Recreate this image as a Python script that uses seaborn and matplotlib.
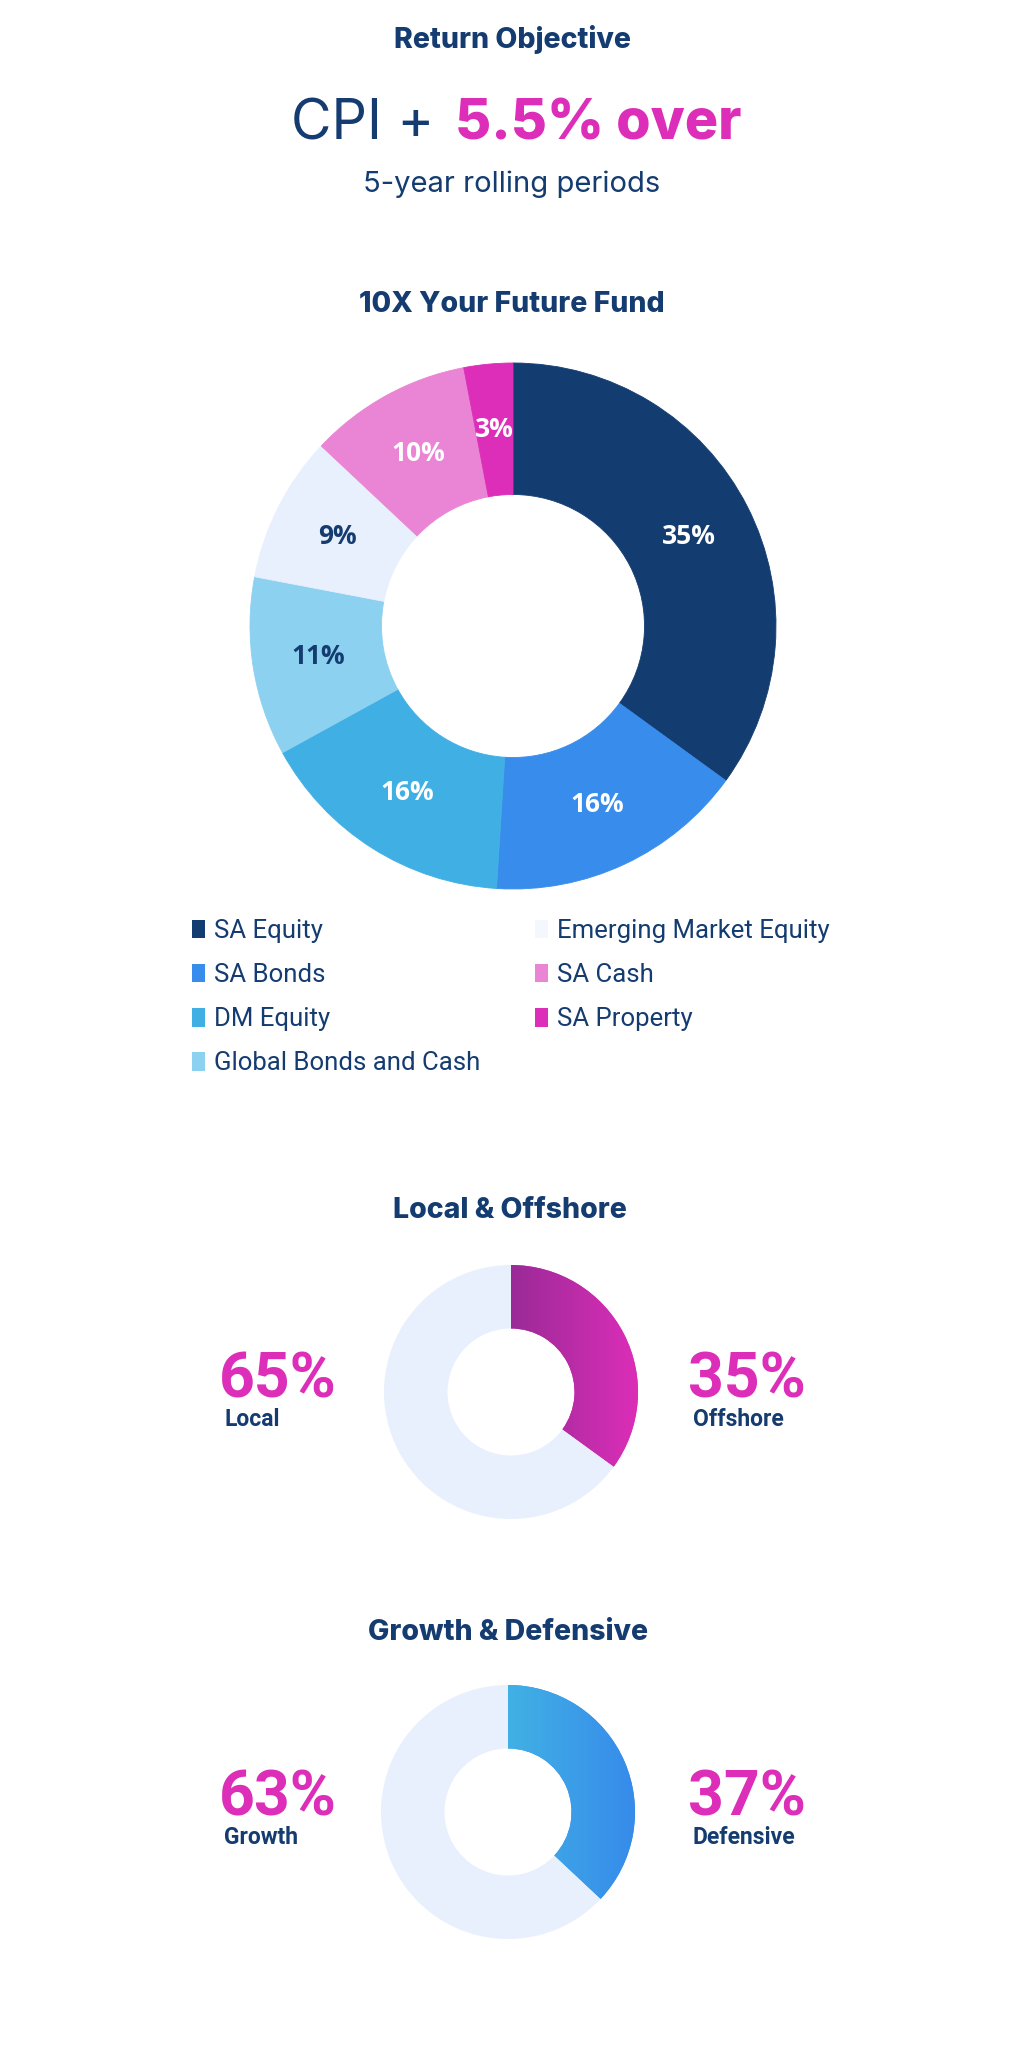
import numpy as np
import matplotlib
matplotlib.use("Agg")
import matplotlib.pyplot as plt
from matplotlib.patches import Patch
import seaborn as sns

sns.set_theme(style="white")
plt.rcParams["font.family"] = ["Roboto", "DejaVu Sans"]

NAVY = "#143C70"
MAGENTA = "#DC2EB8"
HEAD = ["Inter", "DejaVu Sans"]

# 10X Your Future Fund allocation
fund_labels = ["SA Equity", "SA Bonds", "DM Equity", "Global Bonds and Cash",
               "Emerging Market Equity", "SA Cash", "SA Property"]
fund_values = [35, 16, 16, 11, 9, 10, 3]
fund_colors = ["#133D71", "#388CEC", "#40AFE4", "#8DD1F1", "#E8EFFD", "#EA84D4", "#DC2EB8"]
fund_text_colors = ["white", "white", "white", NAVY, NAVY, "white", "white"]

# split donuts
local_labels = ["Offshore", "Local"]
local_values = [35, 65]
growth_labels = ["Defensive", "Growth"]
growth_values = [37, 63]

W, H = 1024, 2062
fig = plt.figure(figsize=(W / 100, H / 100), dpi=100)


def box(cx, cy, r):
    return [(cx - r) / W, 1 - (cy + r) / H, 2 * r / W, 2 * r / H]


# header
fig.text(0.5, 1 - 40 / H, "Return Objective", ha="center", va="center",
         fontsize=20.5, fontweight="heavy", color=NAVY, family=HEAD)
fig.text(0.424, 1 - 124 / H, "CPI +", ha="right", va="center",
         fontsize=40, color=NAVY, family=HEAD)
fig.text(0.444, 1 - 124 / H, "5.5% over", ha="left", va="center",
         fontsize=40, fontweight="heavy", color=MAGENTA, family=HEAD)
fig.text(0.5, 1 - 184 / H, "5-year rolling periods", ha="center", va="center",
         fontsize=21, color=NAVY, family=HEAD)

# main donut
fig.text(0.5, 1 - 305 / H, "10X Your Future Fund", ha="center", va="center",
         fontsize=20.5, fontweight="heavy", color=NAVY, family=HEAD)
ax = fig.add_axes(box(513, 626, 263))
wedges, _, pcts = ax.pie(fund_values, colors=fund_colors, startangle=90, counterclock=False,
                         radius=1, wedgeprops=dict(width=0.5, linewidth=0.6),
                         autopct=lambda p: f"{p:.0f}%", pctdistance=0.75,
                         textprops=dict(fontsize=19, fontweight="bold",
                                        family=["Open Sans", "DejaVu Sans"]))
for w in wedges:
    w.set_edgecolor(w.get_facecolor())
for t, c in zip(pcts, fund_text_colors):
    t.set_color(c)
ax.set_xlim(-1, 1)
ax.set_ylim(-1, 1)
ax.set_axis_off()

# legend in two columns
handles = [Patch(facecolor=c if c != "#E8EFFD" else "#F4F7FE", edgecolor="none")
           for c in fund_colors]
for idx, x in [(slice(0, 4), 192), (slice(4, 7), 535)]:
    leg = fig.legend(handles[idx], fund_labels[idx], loc="upper left",
                     bbox_to_anchor=(x / W, 1 - 919 / H), frameon=False,
                     fontsize=18.5, handlelength=0.5, handleheight=0.75,
                     handletextpad=0.35, labelspacing=0.78,
                     borderpad=0, borderaxespad=0)
    for t in leg.get_texts():
        t.set_color(NAVY)


def split_donut(cx, cy, values, grad, rest):
    a = fig.add_axes(box(cx, cy, 127))
    ws, _ = a.pie(values, colors=[grad[-1], rest], startangle=90, counterclock=False,
                  radius=1, wedgeprops=dict(width=0.5, edgecolor="none"))
    cmap = sns.blend_palette(grad, n_colors=256, as_cmap=True)
    img = a.imshow(np.linspace(0, 1, 256).reshape(1, -1), cmap=cmap,
                   extent=[0, 1, -1, 1], aspect="auto", zorder=3)
    img.set_clip_path(ws[0])
    a.set_xlim(-1, 1)
    a.set_ylim(-1, 1)
    a.set_axis_off()
    return a


def side_labels(ycen, values, labels):
    # values[0] is right side, values[1] left side
    for x, v, lab in [(219, values[1], labels[1]), (688, values[0], labels[0])]:
        fig.text(x / W, 1 - (ycen + 2) / H, f"{v}%", ha="left", va="center",
                 fontsize=45, fontweight="semibold", color=MAGENTA)
        fig.text((x + 5) / W, 1 - (ycen + 41) / H, lab, ha="left", va="center",
                 fontsize=16.5, fontweight="bold", color=NAVY)


fig.text(0.498, 1 - 1211 / H, "Local & Offshore", ha="center", va="center",
         fontsize=20.5, fontweight="heavy", color=NAVY, family=HEAD)
split_donut(511, 1392, local_values, ["#9A2A97", "#DC2EB8"], "#E8EFFD")
side_labels(1378, local_values, local_labels)

fig.text(0.496, 1 - 1632 / H, "Growth & Defensive", ha="center", va="center",
         fontsize=20.5, fontweight="heavy", color=NAVY, family=HEAD)
split_donut(508, 1812, growth_values, ["#41B1E4", "#378BEB"], "#E8EFFD")
side_labels(1796, growth_values, growth_labels)

fig.savefig("out.png", dpi=100, facecolor="white")
